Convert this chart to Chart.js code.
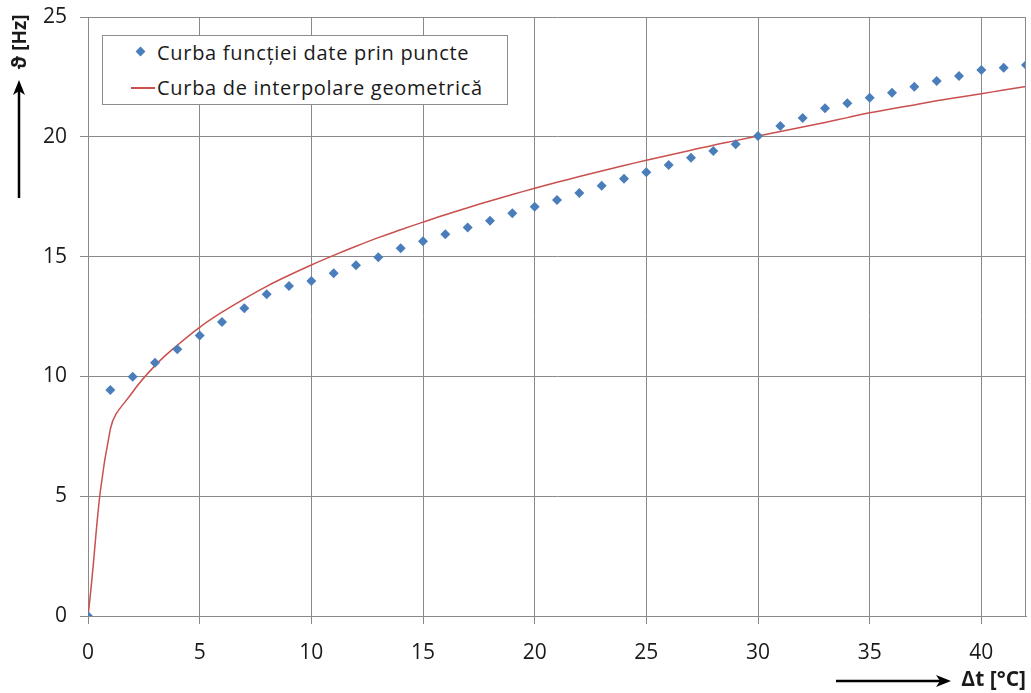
<!DOCTYPE html>
<html>
<head>
<meta charset="utf-8">
<script src="https://cdn.jsdelivr.net/npm/chart.js@4.4.1/dist/chart.umd.min.js"></script>
<style>
  body { margin: 0; background: #fff; }
  #wrap { position: relative; width: 1031px; height: 693px; }
  #legenda { position: absolute; left: 102px; top: 35px; width: 404px; height: 68px;
    border: 1px solid #8c8c8c; background: #fff; font: 20px 'Open Sans'; letter-spacing: 0.7px; color: #1a1a1a; }
  .rand { position: absolute; left: 0; width: 100%; height: 30px; line-height: 30px; white-space: nowrap; }
  .romb { position: absolute; left: 34px; top: 10px; width: 7px; height: 7px; background: #4a7ebb; transform: rotate(45deg); }
  .linie { position: absolute; left: 28px; top: 14px; width: 24px; height: 1.5px; background: #c9504e; }
  .txt { position: absolute; left: 54px; top: 0; }
</style>
</head>
<body>
<div id="wrap">
  <canvas id="grafic" width="1031" height="693"></canvas>
  <div id="legenda"></div>
</div>
<script>
// Date
const deltaT = [0, 1, 2, 3, 4, 5, 6, 7, 8, 9, 10, 11, 12, 13, 14, 15, 16, 17, 18, 19, 20,
  21, 22, 23, 24, 25, 26, 27, 28, 29, 30, 31, 32, 33, 34, 35, 36, 37, 38, 39, 40, 41, 42];

// Curba functiei date prin puncte
const frecventaPuncte = [0, 9.43, 9.99, 10.57, 11.13, 11.71, 12.27, 12.84, 13.43, 13.77, 13.98,
  14.30, 14.64, 14.97, 15.35, 15.64, 15.93, 16.21, 16.50, 16.81, 17.08,
  17.36, 17.65, 17.96, 18.25, 18.52, 18.82, 19.13, 19.41, 19.69, 20.03,
  20.45, 20.78, 21.19, 21.40, 21.63, 21.84, 22.09, 22.33, 22.54, 22.79, 22.88, 23.00];

// Curba de interpolare geometrica
const frecventaCurba = [0, 7.8, 9.35, 10.45, 11.3, 12.05, 12.68, 13.24, 13.76, 14.22, 14.65,
  15.05, 15.43, 15.79, 16.12, 16.44, 16.75, 17.04, 17.32, 17.59, 17.85,
  18.10, 18.34, 18.57, 18.80, 19.02, 19.23, 19.44, 19.65, 19.84, 20.03,
  20.22, 20.41, 20.60, 20.80, 21.00, 21.17, 21.33, 21.50, 21.65, 21.80, 21.95, 22.10];

const serii = ['Curba funcției date prin puncte', 'Curba de interpolare geometrică'];
const culori = ['#4a7ebb', '#c9504e'];
const titluX = 'Δt [°C]';
const titluY = 'ϑ [Hz]';

const gri = '#898989';
const text = '#1a1a1a';
const font = { family: "'Open Sans'", size: 21 };

// titlul axei y, sagetile si latura dreapta a chenarului
const sageti = {
  id: 'sageti',
  afterDraw(chart) {
    const c = chart.ctx;
    const a = chart.chartArea;
    c.save();
    c.strokeStyle = gri;
    c.lineWidth = 1;
    c.beginPath();
    c.moveTo(Math.round(a.right) - 0.5, a.top);
    c.lineTo(Math.round(a.right) - 0.5, a.bottom);
    c.stroke();

    c.save();
    c.translate(21, 42);
    c.rotate(-Math.PI / 2);
    c.fillStyle = text;
    c.font = "bold 19px 'Open Sans'";
    c.textAlign = 'center';
    c.textBaseline = 'middle';
    c.fillText(titluY, 0, 0);
    c.restore();

    c.strokeStyle = '#000';
    c.fillStyle = '#000';
    c.lineWidth = 2.5;
    // sageata verticala
    c.beginPath();
    c.moveTo(19, 198);
    c.lineTo(19, 90);
    c.stroke();
    c.beginPath();
    c.moveTo(19, 80);
    c.lineTo(13, 95);
    c.lineTo(19, 91);
    c.lineTo(25, 95);
    c.closePath();
    c.fill();
    // sageata orizontala
    c.beginPath();
    c.moveTo(836, 681);
    c.lineTo(942, 681);
    c.stroke();
    c.beginPath();
    c.moveTo(951, 681);
    c.lineTo(936, 675);
    c.lineTo(940, 681);
    c.lineTo(936, 687);
    c.closePath();
    c.fill();
    c.restore();
  }
};

const ctx = document.getElementById('grafic').getContext('2d');
const grafic = new Chart(ctx, {
  type: 'scatter',
  data: {
    datasets: [{
      label: serii[0],
      data: deltaT.map((t, i) => ({ x: t, y: frecventaPuncte[i] })),
      showLine: false,
      pointStyle: 'rectRot',
      pointRadius: 5,
      pointBackgroundColor: culori[0],
      pointBorderWidth: 0,
      backgroundColor: culori[0]
    }, {
      label: serii[1],
      data: deltaT.map((t, i) => ({ x: t, y: frecventaCurba[i] })),
      showLine: true,
      borderColor: culori[1],
      borderWidth: 1.5,
      pointRadius: 0,
      tension: 0.4
    }]
  },
  options: {
    responsive: false,
    animation: false,
    layout: { padding: { top: 17, right: 2, left: 0, bottom: 0 } },
    plugins: {
      legend: { display: false },
      tooltip: { enabled: false }
    },
    scales: {
      x: {
        type: 'linear',
        min: 0,
        max: 42,
        afterFit: (s) => { s.height = 77; s.paddingLeft = 0; s.paddingRight = 0; },
        ticks: { stepSize: 5, includeBounds: false, font: font, color: text, padding: 16, maxRotation: 0 },
        grid: { color: gri, tickLength: 8, tickColor: gri },
        border: { color: gri },
        title: { display: true, text: titluX, align: 'end', color: text,
          font: { family: "'Open Sans'", size: 21, weight: 'bold' }, padding: { top: 0, bottom: 0 } }
      },
      y: {
        min: 0,
        max: 25,
        afterFit: (s) => { s.width = 88; s.paddingTop = 0; s.paddingBottom = 0; },
        ticks: { stepSize: 5, font: font, color: text, padding: 13 },
        grid: { color: gri, tickLength: 8, tickColor: gri },
        border: { color: gri }
      }
    }
  },
  plugins: [sageti]
});

// legenda in interiorul zonei de desen
const legenda = document.getElementById('legenda');
grafic.data.datasets.forEach((ds, i) => {
  const r = document.createElement('div');
  r.className = 'rand';
  r.style.top = (2 + i * 35) + 'px';
  const simbol = document.createElement('div');
  simbol.className = i === 0 ? 'romb' : 'linie';
  const t = document.createElement('span');
  t.className = 'txt';
  t.textContent = ds.label;
  r.appendChild(simbol);
  r.appendChild(t);
  legenda.appendChild(r);
});
</script>
</body>
</html>
